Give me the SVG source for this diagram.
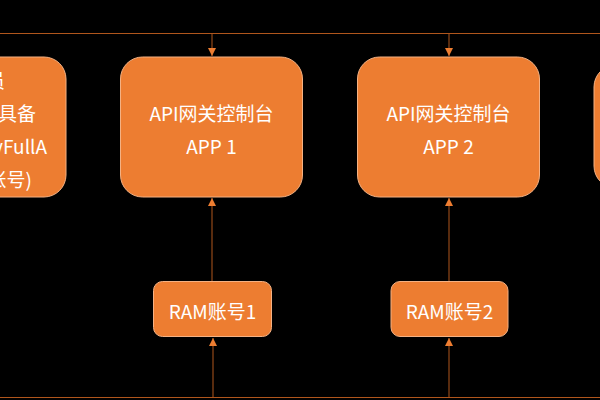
<svg xmlns="http://www.w3.org/2000/svg" width="600" height="400" viewBox="0 0 600 400">
<defs>
<style>
.box{fill:#ED7D31;stroke:#F4B183;stroke-width:1}
.t{fill:#FFFFFF;font-family:"Noto Sans CJK SC","Microsoft YaHei",sans-serif;font-size:19px;text-anchor:middle}
.te{fill:#FFFFFF;font-family:"Noto Sans CJK SC","Microsoft YaHei",sans-serif;font-size:19px;text-anchor:end}
.ln{stroke:#B0561C;stroke-width:1;fill:none}
</style>
<marker id="ah" viewBox="0 0 8 8" refX="8" refY="4" markerWidth="8" markerHeight="8" markerUnits="userSpaceOnUse" orient="auto">
<path d="M0,0 L8,4 L0,8 Z" fill="#ED7D31"/>
</marker>
</defs>
<rect width="600" height="400" fill="#000000"/>
<g id="connectors">
<line class="ln" x1="0" y1="33.5" x2="600" y2="33.5"/>
<line class="ln" x1="0" y1="397.5" x2="600" y2="397.5"/>
<line class="ln" x1="212" y1="34" x2="212" y2="56" marker-end="url(#ah)"/>
<line class="ln" x1="449" y1="34" x2="449" y2="56" marker-end="url(#ah)"/>
<line class="ln" x1="212" y1="281" x2="212" y2="198" marker-end="url(#ah)"/>
<line class="ln" x1="449" y1="281" x2="449" y2="198" marker-end="url(#ah)"/>
<line class="ln" x1="213" y1="397" x2="213" y2="338" marker-end="url(#ah)"/>
<line class="ln" x1="449" y1="397" x2="449" y2="338" marker-end="url(#ah)"/>
</g>
<g id="node-left">
<rect class="box" x="-117" y="57" width="183" height="140" rx="22"/>
<text class="te" x="5" y="88">员</text>
<text class="te" x="36" y="121">具备</text>
<text class="te" x="47" y="154">yFullA</text>
<text class="te" x="32" y="187">账号)</text>
</g>
<g id="node-app1">
<rect class="box" x="120.5" y="57" width="182" height="140" rx="22"/>
<text class="t" x="211.5" y="121">API网关控制台</text>
<text class="t" x="211.5" y="154">APP 1</text>
</g>
<g id="node-app2">
<rect class="box" x="357.5" y="57" width="182" height="140" rx="22"/>
<text class="t" x="448.5" y="121">API网关控制台</text>
<text class="t" x="448.5" y="154">APP 2</text>
</g>
<g id="node-right">
<rect class="box" x="594" y="65" width="183" height="123" rx="22"/>
</g>
<g id="node-ram1">
<rect class="box" x="153.5" y="281.5" width="118" height="55" rx="9"/>
<text class="t" x="212.5" y="319">RAM账号1</text>
</g>
<g id="node-ram2">
<rect class="box" x="391" y="281.5" width="117" height="55" rx="9"/>
<text class="t" x="449.5" y="319">RAM账号2</text>
</g>
</svg>
